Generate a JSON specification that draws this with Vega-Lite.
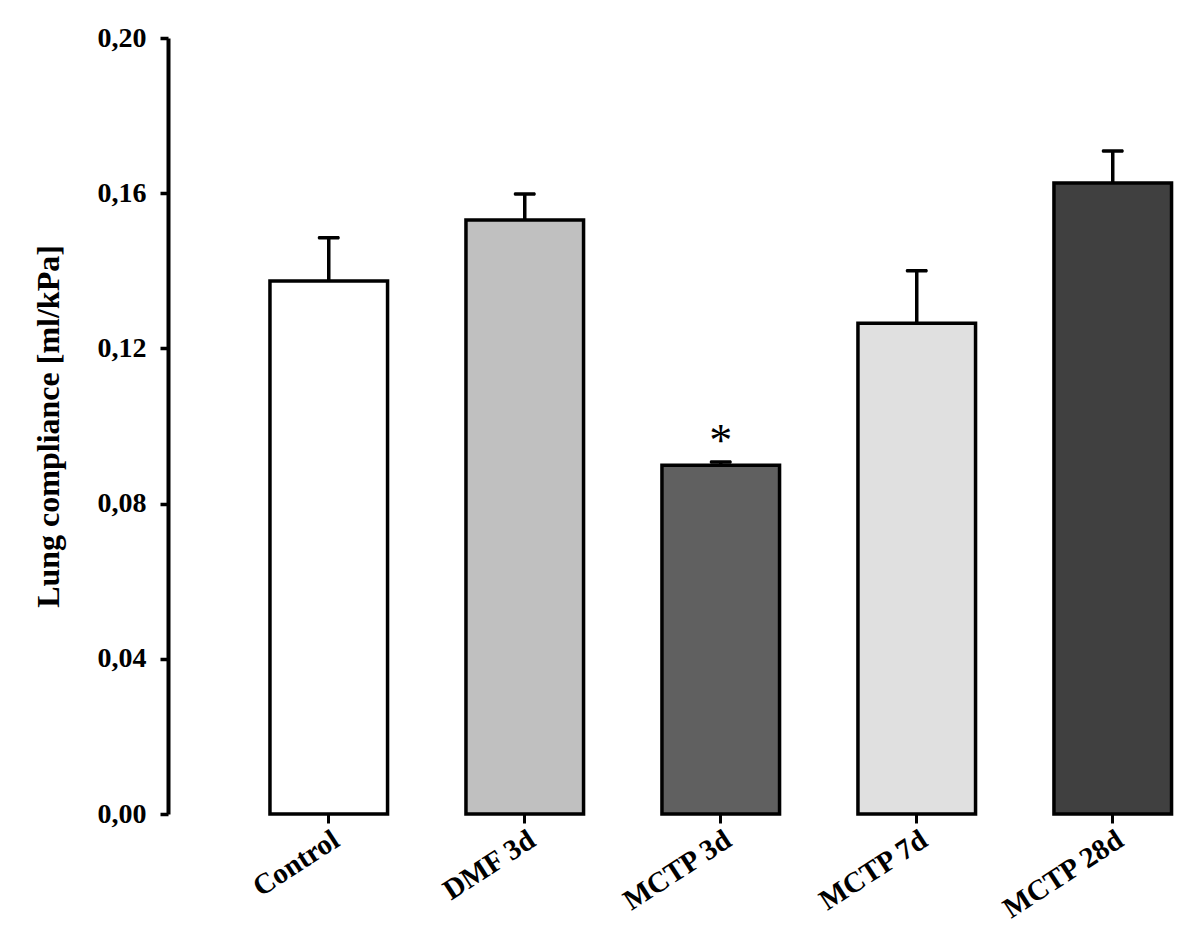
{
  "$schema": "https://vega.github.io/schema/vega-lite/v6.json",
  "autosize": "none",
  "width": 1030,
  "height": 776,
  "padding": {"left": 168, "top": 38, "right": 2, "bottom": 124},
  "background": "white",
  "config": {
    "view": {"stroke": null},
    "font": "Liberation Serif"
  },
  "data": {
    "values": [
      {"group": "Control", "value": 0.1374, "upper": 0.1485, "sig": ""},
      {"group": "DMF 3d", "value": 0.1531, "upper": 0.1598, "sig": ""},
      {"group": "MCTP 3d", "value": 0.0899, "upper": 0.0907, "sig": "*"},
      {"group": "MCTP 7d", "value": 0.1265, "upper": 0.1400, "sig": ""},
      {"group": "MCTP 28d", "value": 0.1626, "upper": 0.1709, "sig": ""}
    ]
  },
  "encoding": {
    "x": {
      "field": "group",
      "type": "nominal",
      "sort": null,
      "scale": {"paddingInner": 0.4, "paddingOuter": 0.3276, "align": 0.794},
      "axis": {
        "title": null,
        "domain": false,
        "ticks": true,
        "tickSize": 9,
        "tickWidth": 3,
        "tickColor": "black",
        "labelAngle": -33,
        "labelAlign": "right",
        "labelBaseline": "top",
        "labelPadding": 2,
        "labelFont": "Liberation Serif",
        "labelFontWeight": "bold",
        "labelFontSize": 29,
        "labelColor": "black"
      }
    }
  },
  "layer": [
    {
      "mark": {"type": "rule", "color": "black", "strokeWidth": 3.5},
      "encoding": {
        "y": {"field": "value", "type": "quantitative"},
        "y2": {"field": "upper"}
      }
    },
    {
      "mark": {"type": "tick", "color": "black", "size": 22, "thickness": 3.5, "cornerRadius": 1.5, "opacity": 1},
      "encoding": {
        "y": {"field": "upper", "type": "quantitative"}
      }
    },
    {
      "mark": {"type": "bar", "stroke": "black", "strokeWidth": 3.5},
      "encoding": {
        "y": {
          "field": "value",
          "type": "quantitative",
          "scale": {"domain": [0, 0.2], "nice": false},
          "axis": {
            "title": "Lung compliance [ml/kPa]",
            "titleFont": "Liberation Serif",
            "titleFontWeight": "bold",
            "titleFontSize": 32,
            "titleColor": "black",
            "titlePadding": 32,
            "values": [0, 0.04, 0.08, 0.12, 0.16, 0.2],
            "labelExpr": "replace(format(datum.value, '.2f'), '.', ',')",
            "labelFont": "Liberation Serif",
            "labelFontWeight": "bold",
            "labelFontSize": 28,
            "labelColor": "black",
            "labelPadding": 14,
            "grid": false,
            "domain": true,
            "domainColor": "black",
            "domainWidth": 4,
            "ticks": true,
            "tickSize": 8,
            "tickWidth": 3.5,
            "tickColor": "black"
          }
        },
        "fill": {
          "field": "group",
          "type": "nominal",
          "scale": {
            "domain": ["Control", "DMF 3d", "MCTP 3d", "MCTP 7d", "MCTP 28d"],
            "range": ["#ffffff", "#c0c0c0", "#606060", "#e0e0e0", "#404040"]
          },
          "legend": null
        }
      }
    },
    {
      "mark": {"type": "text", "font": "Liberation Serif", "fontSize": 46, "fontWeight": "normal", "baseline": "alphabetic", "dy": -6, "color": "black"},
      "encoding": {
        "y": {"field": "upper", "type": "quantitative"},
        "text": {"field": "sig"}
      }
    }
  ]
}
